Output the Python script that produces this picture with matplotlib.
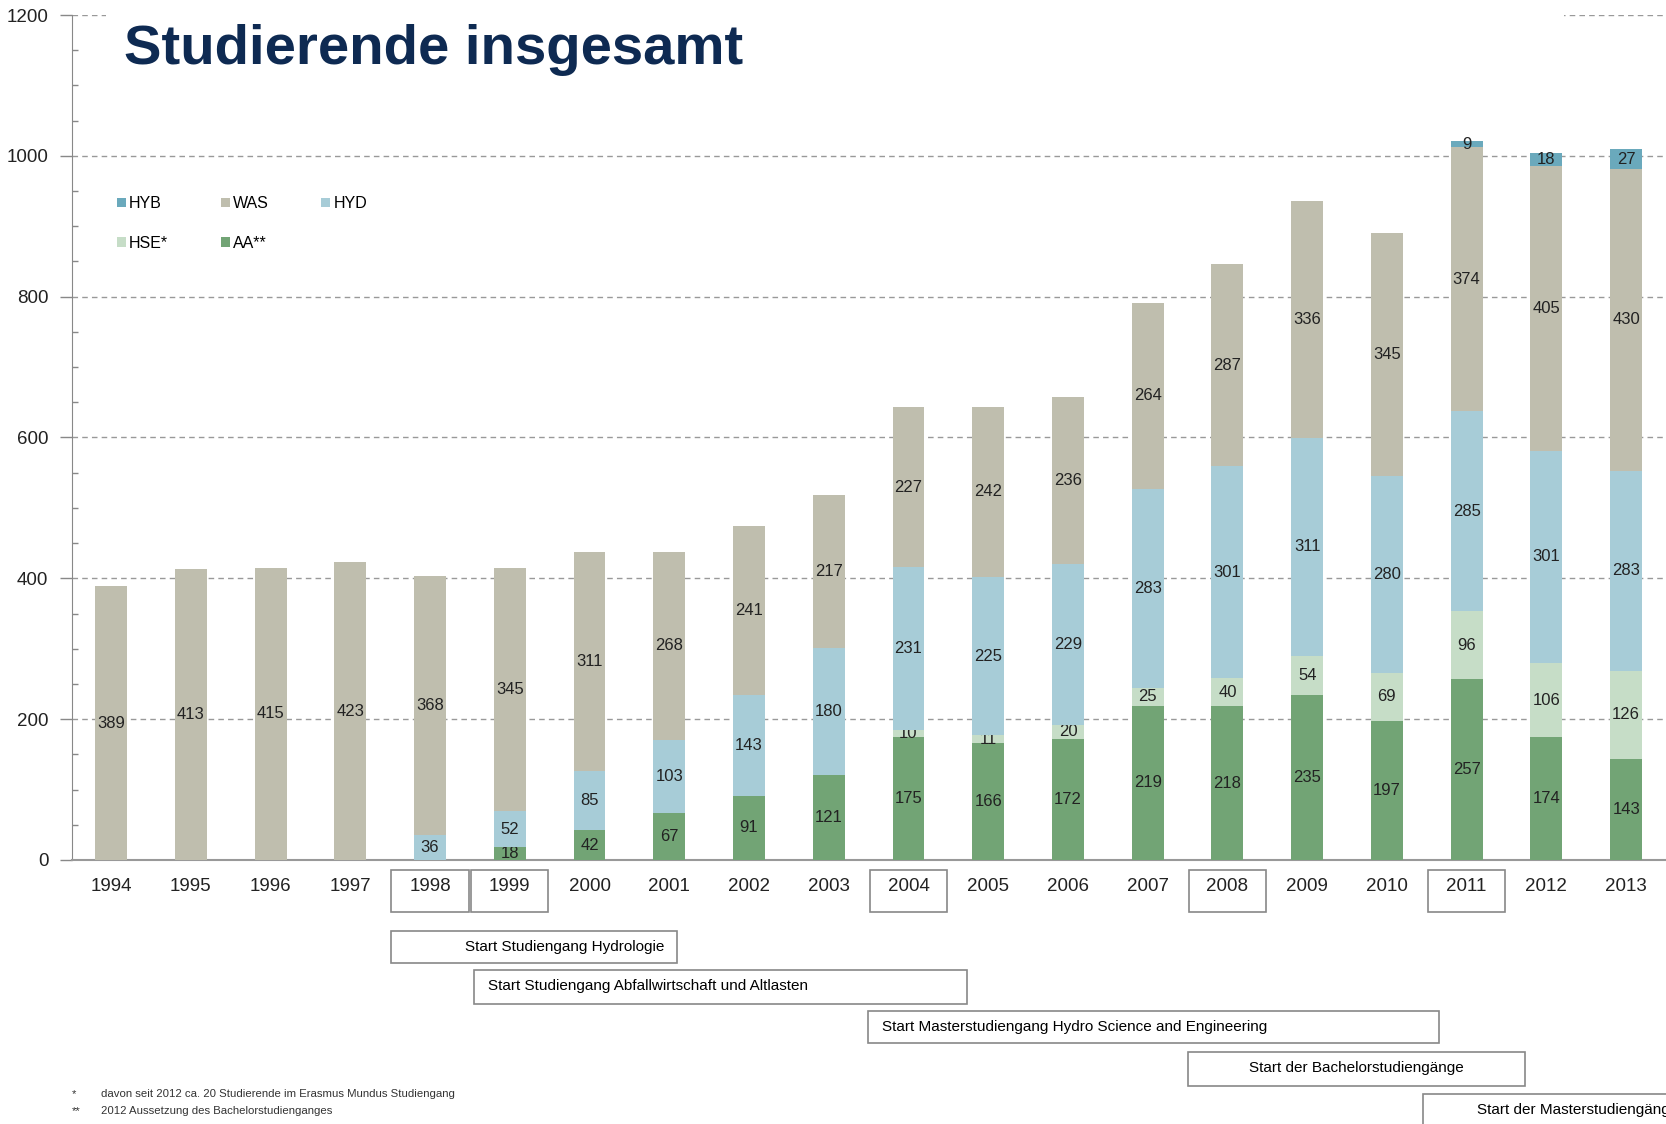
import matplotlib
matplotlib.use("Agg")
import matplotlib.pyplot as plt
import matplotlib.transforms as mtransforms
from matplotlib.patches import Rectangle, Patch
from matplotlib.ticker import MultipleLocator
import numpy as np

plt.rcParams['font.family'] = ['Liberation Sans', 'DejaVu Sans']

# data
years = [str(y) for y in range(1994, 2014)]
aa  = [0, 0, 0, 0, 0, 18, 42, 67, 91, 121, 175, 166, 172, 219, 218, 235, 197, 257, 174, 143]
hse = [0, 0, 0, 0, 0, 0, 0, 0, 0, 0, 10, 11, 20, 25, 40, 54, 69, 96, 106, 126]
hyd = [0, 0, 0, 0, 36, 52, 85, 103, 143, 180, 231, 225, 229, 283, 301, 311, 280, 285, 301, 283]
was = [389, 413, 415, 423, 368, 345, 311, 268, 241, 217, 227, 242, 236, 264, 287, 336, 345, 374, 405, 430]
hyb = [0, 0, 0, 0, 0, 0, 0, 0, 0, 0, 0, 0, 0, 0, 0, 0, 0, 9, 18, 27]

series = [("AA**", aa, "#72a475"), ("HSE*", hse, "#c6ddc7"), ("HYD", hyd, "#a7ccd7"),
          ("WAS", was, "#bfbeae"), ("HYB", hyb, "#6aa9bc")]

boxed_years = ["1998", "1999", "2004", "2008", "2011"]

# (start, end in category units, top px, bottom px, text, alignment)
milestones = [
    (3.51, 7.10, 931, 963, "Start Studiengang Hydrologie", "right"),
    (4.55, 10.74, 970, 1004, "Start Studiengang Abfallwirtschaft und Altlasten", "left"),
    (9.49, 16.65, 1011, 1043, "Start Masterstudiengang Hydro Science and Engineering", "left"),
    (13.51, 17.73, 1052, 1086, "Start der Bachelorstudiengänge", "center"),
    (16.45, 20.5, 1094, 1140, "Start der Masterstudiengänge", "leftclip"),
]

W, H = 1666, 1124
fig = plt.figure(figsize=(W / 100, H / 100), dpi=100)
ax = fig.add_axes([72 / W, 1 - 860 / H, 1 - 72 / W, (860 - 15) / H])

x = np.arange(len(years))
bottom = np.zeros(len(years))
handles = {}
for name, vals, col in series:
    vals = np.array(vals)
    bars = ax.bar(x, vals, 0.4, bottom=bottom, color=col, linewidth=0, zorder=3)
    ax.bar_label(bars, labels=[str(v) if v else "" for v in vals], label_type="center",
                 fontsize=12, color="#222222")
    bottom += vals
    handles[name] = Patch(facecolor=col, edgecolor="none")

ax.set_xlim(-0.49, 19.5)
ax.set_ylim(0, 1200)
ax.set_yticks(range(0, 1201, 200))
ax.yaxis.set_minor_locator(MultipleLocator(50))
ax.set_xticks(x)
ax.set_xticklabels(years)
ax.tick_params(axis="x", length=0, pad=13, labelsize=13.5, colors="#222222")
ax.tick_params(axis="y", which="major", length=9, width=1, color="#888888", pad=8,
               labelsize=13.5, labelcolor="#222222")
ax.tick_params(axis="y", which="minor", length=4, width=1, color="#888888", direction="in")
ax.grid(axis="y", which="major", linestyle=(0, (4, 3)), color="#999999", linewidth=1, zorder=0)
for s in ["top", "right"]:
    ax.spines[s].set_visible(False)
ax.spines["left"].set_color("#888888")
ax.spines["bottom"].set_color("#999999")
ax.spines["bottom"].set_linewidth(1.5)

# white block behind the title hides the 1200 line
fig.add_artist(Rectangle((106 / W, 1 - 95 / H), (1564 - 106) / W, 95 / H,
                         transform=fig.transFigure, facecolor="white", edgecolor="none", zorder=5))
fig.text(124 / W, 1 - 50 / H, "Studierende insgesamt", fontsize=40.5, fontweight="bold",
         color="#0e2a52", va="center", ha="left", zorder=6)

order = ["HYB", "HSE*", "WAS", "AA**", "HYD"]
ax.legend([handles[k] for k in order], order, ncol=3, loc="upper left",
          bbox_to_anchor=(117 / W, 1 - 196 / H), bbox_transform=fig.transFigure,
          frameon=False, fontsize=11.5, handlelength=0.55, handleheight=0.55,
          handletextpad=0.2, columnspacing=3.3, labelspacing=1.55, borderpad=0,
          borderaxespad=0)

# boxes around selected year labels and milestone boxes below the axis
trans = mtransforms.blended_transform_factory(ax.transData, fig.transFigure)
for yr in boxed_years:
    i = years.index(yr)
    fig.add_artist(Rectangle((i - 0.485, 1 - 912 / H), 0.97, 42 / H, transform=trans,
                             fill=False, edgecolor="#888888", linewidth=1.2))

for x0, x1, top, bot, txt, align in milestones:
    fig.add_artist(Rectangle((x0, 1 - bot / H), x1 - x0, (bot - top) / H, transform=trans,
                             fill=False, edgecolor="#888888", linewidth=1.2, clip_on=False))
    yc = 1 - (top + 16) / H
    if align == "right":
        fig.text(x1 - 0.16, yc, txt, transform=trans, ha="right", va="center", fontsize=11)
    elif align == "left":
        fig.text(x0 + 0.18, yc, txt, transform=trans, ha="left", va="center", fontsize=11)
    elif align == "center":
        fig.text((x0 + x1) / 2, yc, txt, transform=trans, ha="center", va="center", fontsize=11)
    else:
        fig.text(x0 + 0.68, yc, txt, transform=trans, ha="left", va="center", fontsize=11)

fig.text(72 / W, 1 - 1094 / H, "*", fontsize=8.2, va="center", color="#333333")
fig.text(101 / W, 1 - 1094 / H, "davon seit 2012 ca. 20 Studierende im Erasmus Mundus Studiengang",
         fontsize=8.2, va="center", color="#333333")
fig.text(72 / W, 1 - 1111 / H, "**", fontsize=8.2, va="center", color="#333333")
fig.text(101 / W, 1 - 1111 / H, "2012 Aussetzung des Bachelorstudienganges",
         fontsize=8.2, va="center", color="#333333")

fig.savefig("out.png", dpi=100)
